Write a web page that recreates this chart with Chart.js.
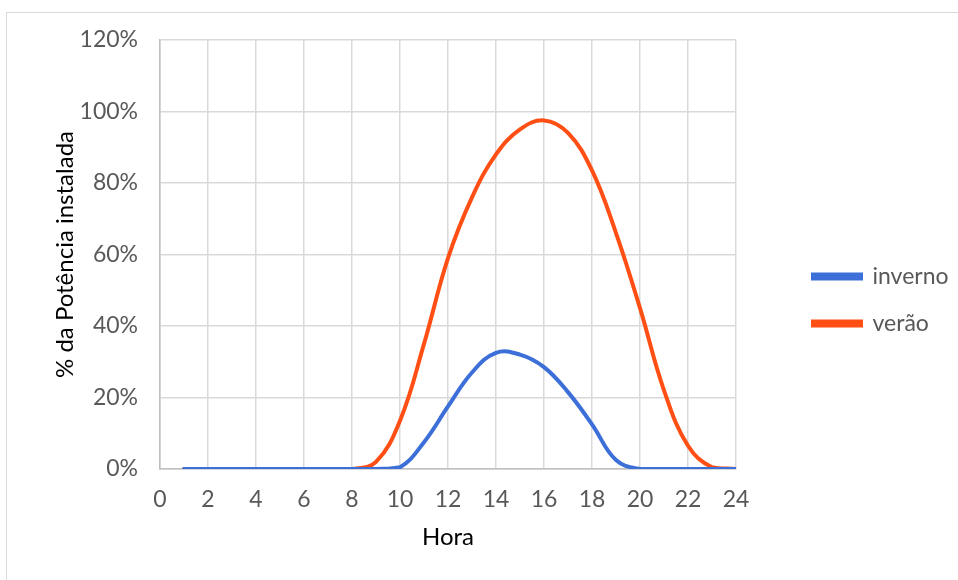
<!DOCTYPE html>
<html>
<head>
<meta charset="utf-8">
<script src="https://cdn.jsdelivr.net/npm/chart.js@4"></script>
<style>
  html, body { margin: 0; padding: 0; background: #fff; }
  #wrap { position: relative; width: 958px; height: 580px; }
  #frame { position: absolute; left: 6px; top: 12px; width: 1000px; height: 600px; border: 1px solid #d9d9d9; box-sizing: border-box; }
  canvas { position: absolute; left: 0; top: 0; }
</style>
</head>
<body>
<div id="wrap">
  <div id="frame"></div>
  <canvas id="c" width="958" height="580"></canvas>
</div>
<script>
const hours = [1,2,3,4,5,6,7,8,9,10,11,12,13,14,15,16,17,18,19,20,21,22,23,24];
const inverno = [0,0,0,0,0,0,0,0,0,0.5,7.5,17.5,27,32.5,32,28.5,21.5,12.5,2.5,0,0,0,0,0];
const verao = [0,0,0,0,0,0,0,0,2,13.5,35,59,76,88,95,97.5,94,83.5,66,45,22,6.5,0.5,0];
const seriesNames = ['inverno', 'verão'];
const xTicks = [0,2,4,6,8,10,12,14,16,18,20,22,24];
const yTicks = [0,20,40,60,80,100,120];

const FONT = 'Lato, "Open Sans", sans-serif';
const toXY = arr => hours.map((h, i) => ({x: h, y: arr[i]}));

// legend: reserve a fixed width and shift it to sit like the reference
const LEGEND_WIDTH = 222;   // 958 - 736
const LEGEND_DX = 53;
const LEGEND_DY = -10;
const legendTweak = {
  id: 'legendTweak',
  afterInit(chart) {
    const lg = chart.legend;
    if (!lg) return;
    const orig = lg.fit.bind(lg);
    lg.fit = function () { orig(); this.width = LEGEND_WIDTH; };
  },
  afterLayout(chart) {
    const lg = chart.legend;
    if (!lg) return;
    lg.left += LEGEND_DX; lg.right += LEGEND_DX;
    lg.top += LEGEND_DY; lg.bottom += LEGEND_DY;
  }
};

new Chart(document.getElementById('c'), {
  type: 'line',
  data: {
    datasets: [
      { label: seriesNames[0], data: toXY(inverno), borderColor: '#3d6fd8', backgroundColor: '#3d6fd8', borderWidth: 4, pointRadius: 0, tension: 0.4, borderCapStyle: 'round' },
      { label: seriesNames[1], data: toXY(verao), borderColor: '#ff4f14', backgroundColor: '#ff4f14', borderWidth: 4, pointRadius: 0, tension: 0.4, borderCapStyle: 'round' }
    ]
  },
  plugins: [legendTweak],
  options: {
    responsive: false,
    animation: false,
    layout: { padding: { left: 0, right: 0, top: 40, bottom: 0 } },
    plugins: {
      legend: {
        position: 'right',
        align: 'center',
        labels: {
          font: { family: FONT, size: 23 },
          color: '#595959',
          boxWidth: 48,
          boxHeight: 4,
          padding: 24
        }
      },
      tooltip: { enabled: false }
    },
    scales: {
      x: {
        type: 'linear',
        min: 0, max: 24,
        afterBuildTicks: s => { s.ticks = xTicks.map(v => ({value: v})); },
        ticks: { font: { family: FONT, size: 23 }, color: '#595959', padding: 17, maxRotation: 0 },
        grid: { color: '#d9d9d9', lineWidth: 1.5, drawTicks: false },
        border: { color: '#bfbfbf', width: 1.5 },
        title: { display: true, text: 'Hora', font: { family: FONT, size: 24 }, color: '#000', padding: { top: 0, bottom: 28 } },
        afterFit: s => { s.height = 580 - 469; }
      },
      y: {
        min: 0, max: 120,
        afterBuildTicks: s => { s.ticks = yTicks.map(v => ({value: v})); },
        ticks: { font: { family: FONT, size: 23 }, color: '#595959', padding: 22, callback: v => v + '%' },
        grid: { color: '#d9d9d9', lineWidth: 1.5, drawTicks: false },
        border: { color: '#bfbfbf', width: 1.5 },
        title: { display: true, text: '% da Potência instalada', font: { family: FONT, size: 24 }, color: '#000', padding: { top: 51, bottom: 0 } },
        afterFit: s => { s.width = 160; }
      }
    }
  }
});
</script>
</body>
</html>
